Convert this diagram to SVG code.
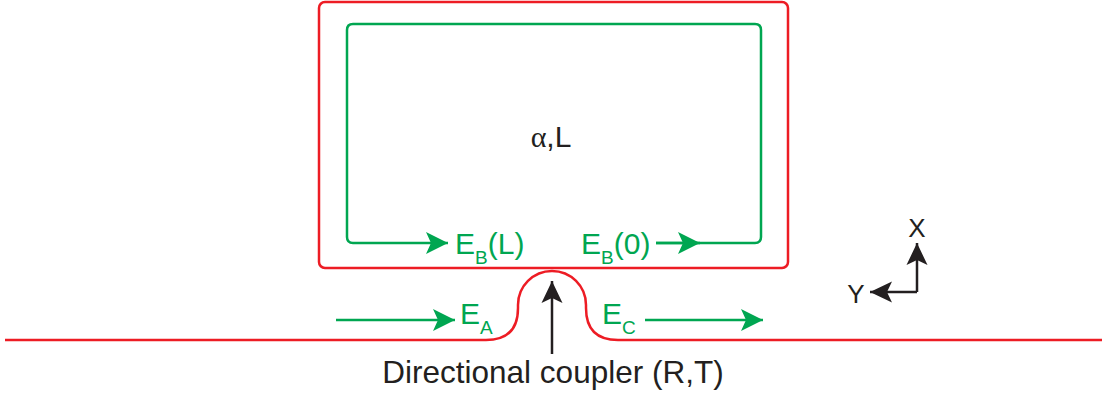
<svg xmlns="http://www.w3.org/2000/svg" width="1102" height="396" viewBox="0 0 1102 396">
<style>
.red{fill:none;stroke:#ed1c24;stroke-width:2.5}
.grn{fill:none;stroke:#00a651;stroke-width:2.5}
.blk{fill:none;stroke:#231f20;stroke-width:2.5}
.tg{font-family:"Liberation Sans",Arial,sans-serif;fill:#00a651;font-size:30px}
.tb{font-family:"Liberation Sans",Arial,sans-serif;fill:#231f20}
.sub{font-size:19px}
</style>
<defs>
<marker id="ag" viewBox="-1 -12 24 24" refX="22" refY="0" markerWidth="24" markerHeight="24" markerUnits="userSpaceOnUse" orient="auto">
<path d="M0,-11 L22,0 L0,11 L5,0 Z" fill="#00a651"/>
</marker>
<marker id="ab" viewBox="-1 -12 24 24" refX="22" refY="0" markerWidth="24" markerHeight="24" markerUnits="userSpaceOnUse" orient="auto">
<path d="M0,-10.5 L22,0 L0,10.5 L5,0 Z" fill="#231f20"/>
</marker>
</defs>
<g id="ring">
<rect class="red" x="319" y="2" width="469" height="266" rx="6"/>
<text class="tb" x="551" y="147" font-size="30" text-anchor="middle"><tspan font-family="'Liberation Serif',serif">α</tspan>,L</text>
</g>
<g id="bus">
<path class="red" d="M5,340 H486 Q518,340 518,308 V305 A34,34 0 0 1 586,305 V308 Q586,340 618,340 H1102"/>
</g>
<g id="labels">
<text class="tg" x="455" y="254">E<tspan class="sub" dy="10">B</tspan><tspan dy="-10">(L)</tspan></text>
<text class="tg" x="581" y="254">E<tspan class="sub" dy="10">B</tspan><tspan dy="-10">(0)</tspan></text>
<text class="tg" x="460" y="324">E<tspan class="sub" dy="10">A</tspan></text>
<text class="tg" x="602" y="324">E<tspan class="sub" dy="10">C</tspan></text>
<text class="tb" x="553" y="383" font-size="31.5" text-anchor="middle">Directional coupler (R,T)</text>
</g>
<g id="axes">
<text class="tb" x="917" y="237" font-size="26" text-anchor="middle">X</text>
<text class="tb" x="856" y="303" font-size="26" text-anchor="middle">Y</text>
</g>
<g id="connectors">
<path class="grn" d="M656,243 H755 Q761,243 761,237 V30 Q761,24 755,24 H353 Q347,24 347,30 V237 Q347,243 353,243 H448" marker-end="url(#ag)"/>
<path class="grn" d="M656,243 H700" marker-end="url(#ag)"/>
<path class="grn" d="M336,320 H455" marker-end="url(#ag)"/>
<path class="grn" d="M645,320 H763" marker-end="url(#ag)"/>
<path class="blk" d="M552,354 V281" marker-end="url(#ab)"/>
<path class="blk" d="M917,292 V243" marker-end="url(#ab)"/>
<path class="blk" d="M917,292 H870" marker-end="url(#ab)"/>
</g>
</svg>
